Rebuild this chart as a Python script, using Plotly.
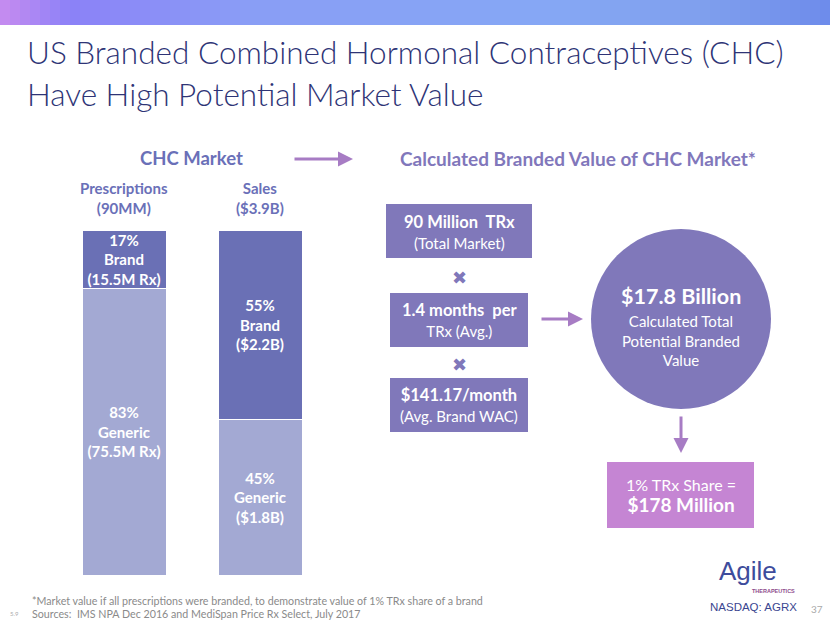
import plotly.graph_objects as go

# ---- data ----
bar_categories = ["Prescriptions", "Sales"]
generic_share = [83, 45]
brand_share = [17, 55]
generic_labels = ["83%<br>Generic<br>(75.5M Rx)", "45%<br>Generic<br>($1.8B)"]
brand_labels = ["17%<br>Brand<br>(15.5M Rx)", "55%<br>Brand<br>($2.2B)"]
bar_headers = ["Prescriptions<br>(90MM)", "Sales<br>($3.9B)"]

W, H = 830, 623
FONT = "Lato"
BRAND_C = "#6A70B5"
GENERIC_C = "#A3A9D3"
BOX_C = "#8078BA"
PINK_C = "#C585D3"
ARROW_C = "#A77CC4"
HEAD_C = "#6A70B8"

fig = go.Figure()

# stacked bars (100%)
fig.add_trace(go.Bar(
    x=bar_categories, y=generic_share, text=generic_labels,
    marker=dict(color=GENERIC_C, line=dict(color="white", width=1)),
    textposition="inside", insidetextanchor="middle", constraintext="none",
    textfont=dict(family=FONT, size=15, color="white", weight="bold"),
    xaxis="x2", yaxis="y2", hoverinfo="skip", showlegend=False,
))
fig.add_trace(go.Bar(
    x=bar_categories, y=brand_share, text=brand_labels,
    marker=dict(color=BRAND_C, line=dict(color="white", width=1)),
    textposition="inside", insidetextanchor="middle", constraintext="none",
    textfont=dict(family=FONT, size=15, color="white", weight="bold"),
    xaxis="x2", yaxis="y2", hoverinfo="skip", showlegend=False,
))

shapes = []
# gradient banner
stops = [(0, (200, 140, 240)), (70, (140, 130, 248)), (250, (138, 158, 246)),
         (550, (134, 168, 245)), (700, (128, 160, 238)), (830, (110, 140, 235))]
n = 83
for i in range(n):
    x0 = i * W / n
    x1 = (i + 1) * W / n
    xm = (x0 + x1) / 2
    for j in range(len(stops) - 1):
        if stops[j][0] <= xm <= stops[j + 1][0]:
            t = (xm - stops[j][0]) / (stops[j + 1][0] - stops[j][0])
            c = tuple(int(stops[j][1][k] + t * (stops[j + 1][1][k] - stops[j][1][k])) for k in range(3))
            break
    shapes.append(dict(type="rect", xref="x", yref="y", x0=x0, x1=x1 + 0.5, y0=0, y1=25,
                       fillcolor="rgb(%d,%d,%d)" % c, line=dict(width=0), layer="below"))

# boxes
for (x0, x1, y0, y1) in [(386, 532, 204, 258), (390, 528, 293, 347), (390, 528, 378, 432)]:
    shapes.append(dict(type="rect", xref="x", yref="y", x0=x0, x1=x1, y0=y0, y1=y1,
                       fillcolor=BOX_C, line=dict(width=0)))
shapes.append(dict(type="circle", xref="x", yref="y", x0=591, x1=771, y0=229, y1=409,
                   fillcolor=BOX_C, line=dict(width=0)))
shapes.append(dict(type="rect", xref="x", yref="y", x0=607, x1=754, y0=462, y1=528,
                   fillcolor=PINK_C, line=dict(width=0)))

ann = []
def T(x, y, text, size, color, bold=False, xanchor="center", family=FONT, weight=None):
    ann.append(dict(x=x, y=y, xref="x", yref="y", text=text, showarrow=False,
                    xanchor=xanchor, yanchor="middle", align="center",
                    font=dict(family=family, size=size, color=color,
                              weight=weight if weight else ("bold" if bold else "normal"))))

def A(x0, y0, x1, y1):
    ann.append(dict(x=x1, y=y1, ax=x0, ay=y0, xref="x", yref="y", axref="x", ayref="y",
                    text="", showarrow=True, arrowhead=2, arrowsize=1, arrowwidth=3,
                    arrowcolor=ARROW_C))

# title
T(25, 52, "US Branded Combined Hormonal Contraceptives (CHC)", 31.5, "#2E3476", xanchor="left", weight=300)
T(25, 94, "Have High Potential Market Value", 31.5, "#2E3476", xanchor="left", weight=300)

# headings
T(191, 158, "CHC Market", 18.5, HEAD_C, bold=True)
A(293, 159, 353, 159)
T(578, 158, "Calculated Branded Value of CHC Market*", 19, "#8177BB", bold=True)

# bar headers
T(124, 198, bar_headers[0], 15, HEAD_C, bold=True)
T(260, 198, bar_headers[1], 15, HEAD_C, bold=True)

# boxes text
T(459, 232, "<b>90 Million  TRx</b><br><span style='font-size:15px'>(Total Market)</span>", 16.5, "white")
T(459, 320, "<b>1.4 months  per</b><br><span style='font-size:15px'>TRx (Avg.)</span>", 16.5, "white")
T(459, 405, "<b>$141.17/month</b><br><span style='font-size:15px'>(Avg. Brand WAC)</span>", 16.5, "white")
T(459, 277, "✖", 18, BOX_C, family="DejaVu Sans")
T(459, 364, "✖", 18, BOX_C, family="DejaVu Sans")

A(540, 319, 583, 319)
T(681, 296, "<b>$17.8 Billion</b>", 21.5, "white")
T(681, 340, "Calculated Total<br>Potential Branded<br>Value", 15, "white")

A(681, 415, 681, 453)
T(681, 495, "1% TRx Share =<br><b><span style='font-size:19px'>$178 Million</span></b>", 16, "white")

# footnotes
T(30, 600, "*Market value if all prescriptions were branded, to demonstrate value of 1% TRx share of a brand",
  10.7, "#8a8a8a", xanchor="left")
T(30, 613, "Sources:  IMS NPA Dec 2016 and MediSpan Price Rx Select, July 2017", 10.7, "#8a8a8a", xanchor="left")
T(8, 613, "5.9", 6, "#aaaaaa", xanchor="left")

# logo
T(748, 571, "Agile", 26, "#3E4C9C", family="Liberation Sans")
T(773, 591, "THERAPEUTICS", 5.5, "#8E4B8C", bold=True, family="Liberation Sans")
T(753, 607, "NASDAQ: AGRX", 11.5, "#3A4690", family="Liberation Sans")
T(817, 609, "37", 10, "#aaaaaa")

fig.update_layout(
    width=W, height=H, margin=dict(l=0, r=0, t=0, b=0),
    paper_bgcolor="white", plot_bgcolor="rgba(0,0,0,0)",
    barmode="stack", bargap=1 - 84 / 136,
    xaxis=dict(range=[0, W], domain=[0, 1], visible=False, fixedrange=True),
    yaxis=dict(range=[H, 0], domain=[0, 1], visible=False, fixedrange=True),
    xaxis2=dict(domain=[56 / W, 328 / W], range=[-0.5, 1.5], visible=False, anchor="y2"),
    yaxis2=dict(domain=[1 - 575 / H, 1 - 230 / H], range=[0, 100], visible=False, anchor="x2"),
    shapes=shapes, annotations=ann, showlegend=False,
)

fig.write_html("out.html", config={"displayModeBar": False},
               post_script="document.body.style.margin='0';document.body.style.overflow='hidden';")
